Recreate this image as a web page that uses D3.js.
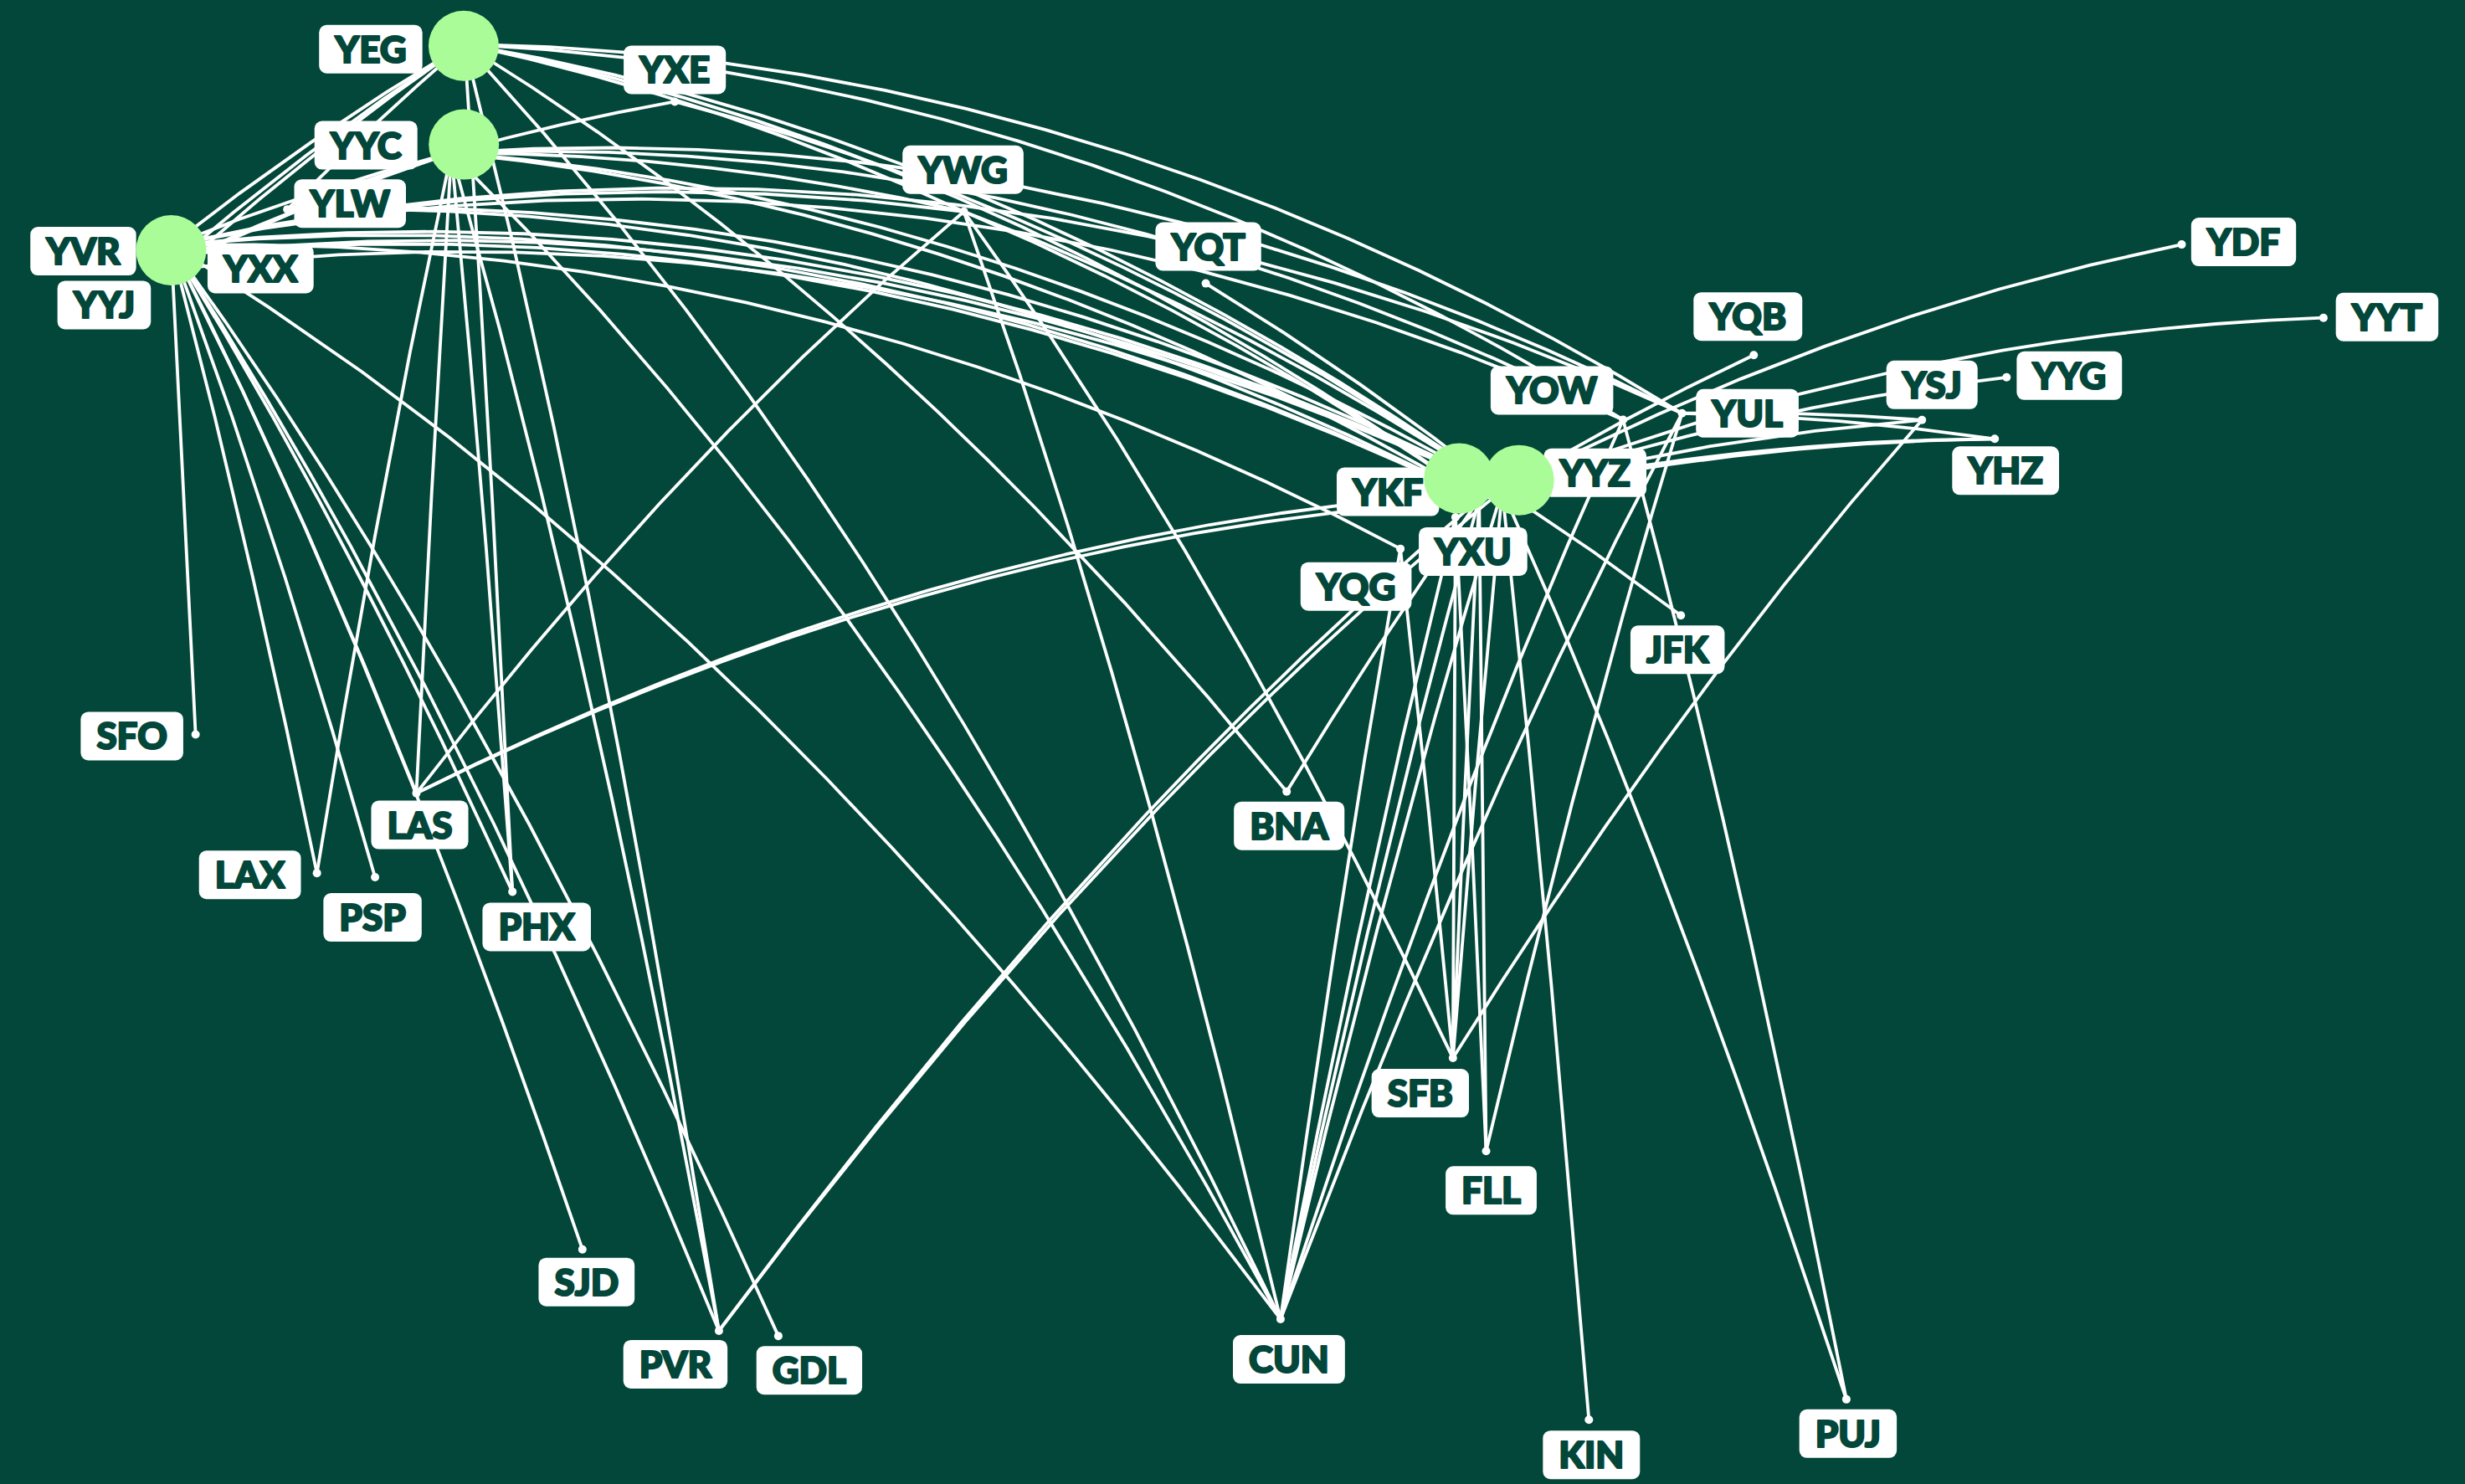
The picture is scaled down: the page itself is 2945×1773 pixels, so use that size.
<!DOCTYPE html>
<html><head><meta charset="utf-8">
<script src="https://cdn.jsdelivr.net/npm/d3@7"></script>
<style>html,body{margin:0;padding:0;background:#02473a;} svg{display:block}</style>
</head><body>
<svg id="chart"></svg>
<script>
// ---------- DATA ----------
const airportCodes = ["YVR","YYJ","YXX","YLW","YYC","YEG","YXE","YWG","YQT","YQG","YXU","YKF","YYZ","YOW","YUL","YQB","YSJ","YHZ","YYG","YDF","YYT",
  "SFO","LAX","PSP","LAS","PHX","SJD","PVR","GDL","CUN","BNA","SFB","FLL","KIN","PUJ","JFK"];
const airportLon = [-123.1792,-123.4258,-122.3608,-119.3778,-114.0106,-113.5800,-106.6997,-97.2399,-89.3239,-82.9556,-81.1539,-80.3786,-79.6248,-75.6692,-73.7408,-71.3933,-65.8903,-63.5086,-63.1211,-57.3914,-52.7519,
  -122.3790,-118.4085,-116.5067,-115.1537,-112.0116,-109.7215,-105.2544,-103.3112,-86.8771,-86.6774,-81.2375,-80.1506,-76.7875,-68.3634,-73.7781];
const airportLat = [49.1947,48.6469,49.0253,49.9561,51.1315,53.3097,52.1708,49.9100,48.3719,42.2756,43.0356,43.4608,43.6777,45.3225,45.4706,46.7911,45.3161,44.8808,46.2900,49.2108,47.6186,
  37.6213,33.9416,33.8297,36.0840,33.4342,23.1518,20.6801,20.5218,21.0365,36.1263,28.7776,26.0742,17.9357,18.5674,40.6413];
const hubs = ["YVR","YEG","YYC","YKF","YYZ"];
const routes = [
  ["YVR","YYC"],["YVR","YEG"],["YXX","YYC"],["YXX","YEG"],["YYJ","YYC"],["YYJ","YEG"],["YLW","YEG"],["YLW","YYC"],["YYC","YXE"],
  ["YVR","YKF"],["YVR","YYZ"],["YXX","YYZ"],["YXX","YKF"],["YYJ","YYZ"],["YLW","YYZ"],["YLW","YKF"],
  ["YYC","YKF"],["YYC","YYZ"],["YEG","YKF"],["YEG","YYZ"],
  ["YVR","YOW"],["YYC","YOW"],["YEG","YOW"],["YYC","YUL"],["YEG","YUL"],["YVR","YUL"],
  ["YVR","YWG"],["YYC","YWG"],["YEG","YWG"],["YWG","YKF"],["YWG","YYZ"],["YQT","YYZ"],["YXE","YYZ"],["YVR","YQG"],
  ["YYZ","YQB"],["YYZ","YDF"],["YYZ","YYT"],["YYZ","YHZ"],["YYZ","YSJ"],["YYZ","YYG"],["YYZ","JFK"],["YKF","YHZ"],["YUL","YSJ"],["YUL","YHZ"],
  ["YVR","SFO"],["YVR","LAX"],["YVR","PSP"],["YVR","LAS"],["YVR","PHX"],["YVR","SJD"],["YVR","PVR"],["YVR","GDL"],["YVR","CUN"],
  ["YYC","LAX"],["YYC","LAS"],["YYC","PHX"],["YYC","PVR"],["YYC","CUN"],
  ["YEG","PHX"],["YEG","PVR"],["YEG","CUN"],["YEG","BNA"],
  ["YWG","LAS"],["YWG","CUN"],["YWG","SFB"],
  ["YKF","LAS"],["YYZ","LAS"],["YKF","PVR"],["YYZ","PVR"],["YKF","CUN"],["YYZ","CUN"],["YKF","SFB"],["YYZ","SFB"],["YKF","FLL"],["YKF","BNA"],
  ["YYZ","KIN"],["YYZ","PUJ"],["YOW","PUJ"],
  ["YXU","CUN"],["YXU","SFB"],["YXU","FLL"],["YQG","CUN"],["YQG","SFB"],["YOW","CUN"],["YUL","CUN"],["YUL","FLL"],["YSJ","SFB"]
];

// ---------- LAYOUT (positions / styles) ----------
const W = 2945, H = 1773;
const hubNudge = {YVR:[0,6],YEG:[-1,2],YYC:[15,-10],YKF:[-24,-25],YYZ:[20,-12]};
const labelOffset = {
  YEG:[-112,6],YYC:[-102,-9],YVR:[-105,7],YLW:[75,-7],YXX:[77,19],YYJ:[-71,41],YXE:[0,-38],YWG:[-1,-50],YQT:[3,-44],
  YOW:[-85,-35],YUL:[78,0],YQB:[-7,-46],YDF:[74,-3],YYT:[76,-1],YYG:[75,-2],YSJ:[12,-42],YHZ:[13,38],YYZ:[111,-21],
  YKF:[-109,-9],YXU:[21,41],YQG:[-53,45],JFK:[-4,41],BNA:[3,41],SFB:[-39,42],FLL:[6,47],KIN:[3,42],PUJ:[2,41],
  CUN:[10,48],SJD:[5,39],PVR:[-52,40],GDL:[37,41],SFO:[-76,2],LAX:[-80,2],PSP:[-3,48],LAS:[4,38],PHX:[29,42]
};
const BG = "#02473a", HUB = "#aafc98";

const svg = d3.select("#chart").attr("width", W).attr("height", H).style("background", BG);
svg.append("rect").attr("width", W).attr("height", H).attr("fill", BG);

const projection = d3.geoMercator().scale(2092).translate([4702, 2362]);
const geoPath = d3.geoPath(projection);

const airports = airportCodes.map((c, i) => ({code: c, lon: airportLon[i], lat: airportLat[i]}));
const byCode = new Map(airports.map(a => [a.code, a]));
airports.forEach(a => { const p = projection([a.lon, a.lat]); a.x = p[0]; a.y = p[1]; });

// routes: great-circle arcs
svg.append("g").attr("fill", "none").attr("stroke", "#ffffff").attr("stroke-width", 3.8).attr("stroke-linecap", "round")
  .selectAll("path").data(routes).join("path")
  .attr("d", r => {
    const a = byCode.get(r[0]), b = byCode.get(r[1]);
    return geoPath({type: "LineString", coordinates: [[a.lon, a.lat], [b.lon, b.lat]]});
  });

// endpoint dots
svg.append("g").selectAll("circle").data(airports.filter(a => !hubs.includes(a.code))).join("circle")
  .attr("cx", a => a.x).attr("cy", a => a.y).attr("r", 5).attr("fill", "#fff");

// labels
const lg = svg.append("g");
airports.forEach(a => {
  const off = labelOffset[a.code] || [0, 40];
  const cx = a.x + off[0], cy = a.y + off[1];
  const g = lg.append("g");
  const rect = g.append("rect").attr("fill", "#fff").attr("rx", 9);
  const t = g.append("text").text(a.code)
    .attr("x", cx).attr("y", cy + 16)
    .attr("text-anchor", "middle")
    .attr("font-family", "Lato, Inter, Roboto, 'DejaVu Sans', sans-serif")
    .attr("font-weight", 900).attr("font-size", 44).attr("fill", BG)
    .attr("stroke", BG).attr("stroke-width", 2.2).attr("stroke-linejoin", "round");
  const w = t.node().getComputedTextLength() + 38, h = 58;
  rect.attr("x", cx - w / 2).attr("y", cy - h / 2).attr("width", w).attr("height", h);
});

// hubs
svg.append("g").selectAll("circle").data(airports.filter(a => hubs.includes(a.code))).join("circle")
  .attr("cx", a => a.x + hubNudge[a.code][0]).attr("cy", a => a.y + hubNudge[a.code][1])
  .attr("r", 42).attr("fill", HUB);
</script>
</body></html>
